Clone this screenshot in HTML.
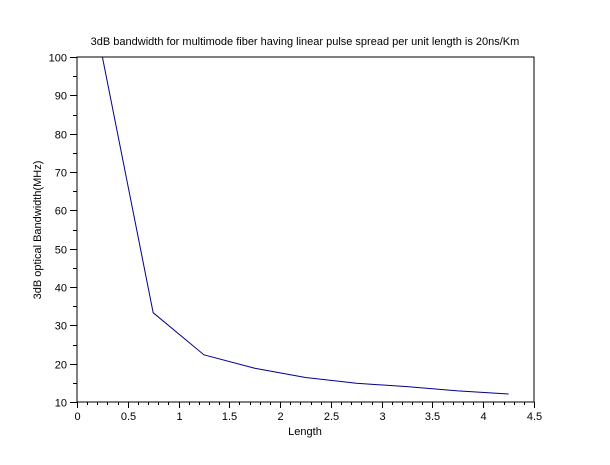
<!DOCTYPE html>
<html><head><meta charset="utf-8"><style>
body{margin:0;background:#fff;}
svg text{font-family:"Liberation Sans",sans-serif;font-size:11px;fill:#000;}
</style></head><body>
<svg id="chart" width="610" height="460">
<rect width="610" height="460" fill="#fff"/>
<text x="305" y="45" text-anchor="middle">3dB bandwidth for multimode fiber having linear pulse spread per unit length is 20ns/Km</text>
<rect x="77" y="57" width="457" height="345" fill="none" stroke="#000" stroke-width="1"/>
<g id="axes"></g>
<text x="305" y="435" text-anchor="middle">Length</text>
<text transform="translate(41,230) rotate(-90)" text-anchor="middle">3dB optical Bandwidth(MHz)</text>
<polyline id="line" fill="none" stroke="#00008b" stroke-width="1"/>
</svg>
<script>
const lengths=[0.25,0.75,1.25,1.75,2.25,2.75,3.25,3.75,4.25];
const bandwidth=[100,33.3,22.3,18.8,16.4,14.9,14.0,12.9,12.1];
const xTicks=[0,0.5,1,1.5,2,2.5,3,3.5,4,4.5];
const yTicks=[10,20,30,40,50,60,70,80,90,100];
const X0=77,X1=534,Y0=402,Y1=57;
const xs=v=>X0+(v-0)/(4.5-0)*(X1-X0);
const ys=v=>Y0-(v-10)/(100-10)*(Y0-Y1);
const ns="http://www.w3.org/2000/svg";
const g=document.getElementById('axes');
function ln(x1,y1,x2,y2){const l=document.createElementNS(ns,'line');l.setAttribute('x1',x1);l.setAttribute('y1',y1);l.setAttribute('x2',x2);l.setAttribute('y2',y2);l.setAttribute('stroke','#000');


g.appendChild(l);}
function tx(x,y,s,a){const t=document.createElementNS(ns,'text');t.setAttribute('x',x);t.setAttribute('y',y);t.setAttribute('text-anchor',a);t.textContent=s;


g.appendChild(t);}
xTicks.forEach((v,i)=>{const x=Math.round(xs(v))+0.5;ln(x,Y0,x,Y0+6);tx(x,Y0+18,String(v),'middle');
if(i<xTicks.length-1){for(let k=1;k<5;k++){const mx=Math.round(xs(v+k*0.1))+0.5;ln(mx,Y0,mx,Y0+3);}}});
yTicks.forEach((v,i)=>{const y=Math.round(ys(v))+0.5;ln(X0-7,y,X0,y);tx(X0-10,y+4,String(v),'end');
if(i<yTicks.length-1){const my=Math.round(ys(v+5))+0.5;ln(X0-4,my,X0,my);}});
document.getElementById('line').setAttribute('points',lengths.map((l,i)=>xs(l)+','+ys(bandwidth[i])).join(' '));
</script>
</body></html>
